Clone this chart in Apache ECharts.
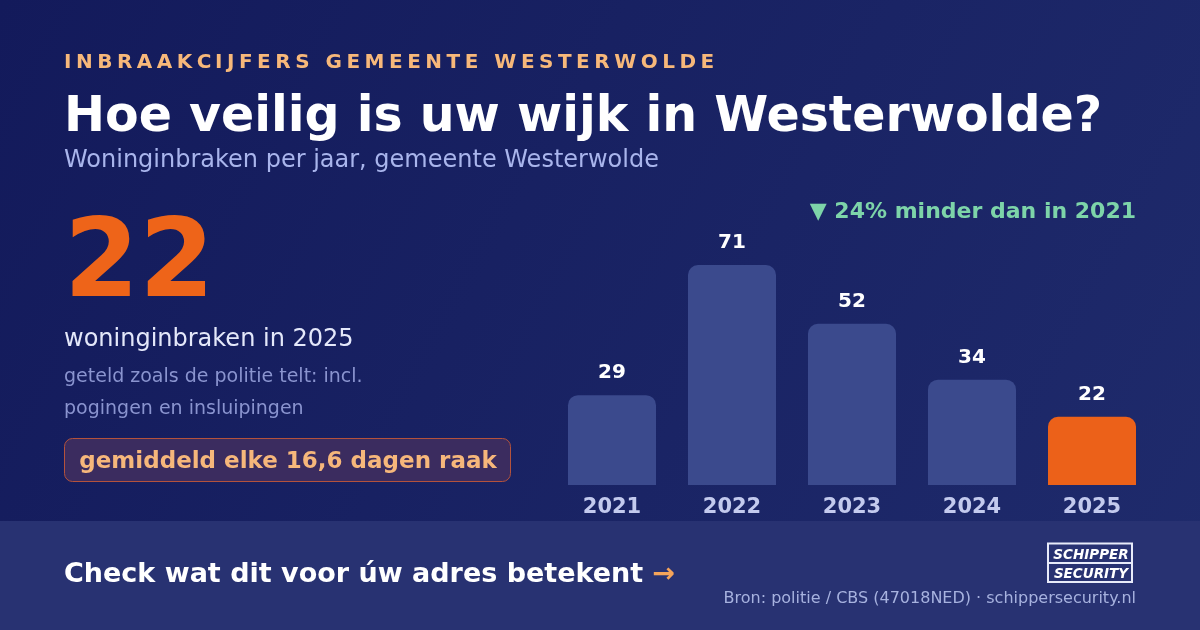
<!DOCTYPE html>
<html>
<head>
<meta charset="utf-8">
<script src="https://cdn.jsdelivr.net/npm/echarts@6/dist/echarts.min.js"></script>
<style>
  html, body { margin: 0; padding: 0; background: #151d5e; }
  #div_chart { width: 1200px; height: 630px; }
</style>
</head>
<body>
<div id="div_chart"></div>
<script>
"use strict";

// data
const years = ["2021", "2022", "2023", "2024", "2025"];
const burglaries = [29, 71, 52, 34, 22];
const highlight_year = "2025";

// texts
const txt_kicker = "INBRAAKCIJFERS GEMEENTE WESTERWOLDE";
const txt_title = "Hoe veilig is uw wijk in Westerwolde?";
const txt_subtitle = "Woninginbraken per jaar, gemeente Westerwolde";
const txt_big = "22";
const txt_big_label = "woninginbraken in 2025";
const txt_note = ["geteld zoals de politie telt: incl.", "pogingen en insluipingen"];
const txt_badge = "gemiddeld elke 16,6 dagen raak";
const txt_change = "▼ 24% minder dan in 2021";
const txt_cta = "Check wat dit voor úw adres betekent";
const txt_source = "Bron: politie / CBS (47018NED) · schippersecurity.nl";

const FONT = "DejaVu Sans";
const html_div_chart = document.getElementById("div_chart");
const chart = echarts.init(html_div_chart, null, { renderer: "canvas" });

// y is the baseline; zrender has no alphabetic baseline, so shift a middle-aligned text
function mid(y, size) {
  return y - 0.30 * size;
}

// letter-spaced text: one element per char, positions from canvas measureText
function spaced_text(str, x, y, size, spacing, color) {
  const ctx = document.createElement("canvas").getContext("2d");
  ctx.font = "bold " + size + "px \"" + FONT + "\"";
  const out = [];
  for (let i = 0; i < str.length; i++) {
    const dx = ctx.measureText(str.slice(0, i)).width + i * spacing;
    out.push({
      type: "text", x: x + dx, y: mid(y, size),
      style: {
        text: str[i], fill: color, fontFamily: FONT, fontSize: size, fontWeight: "bold",
        verticalAlign: "middle"
      }
    });
  }
  return out;
}

function t(text, x, y, size, color, weight, align, italic) {
  return {
    type: "text", x: x, y: mid(y, size),
    style: {
      text: text, fill: color,
      fontFamily: FONT, fontSize: size, fontWeight: weight || "normal",
      fontStyle: italic ? "italic" : "normal",
      align: align || "left", verticalAlign: "middle"
    }
  };
}

const graphics = [
  // background
  {
    type: "rect", shape: { x: 0, y: 0, width: 1200, height: 630 }, z: -10,
    style: {
      fill: new echarts.graphic.LinearGradient(0, 0, 1, 1, [
        { offset: 0, color: "#131a5b" },
        { offset: 1, color: "#1f2b6c" }
      ])
    }
  },
  // bottom band
  { type: "rect", shape: { x: 0, y: 521, width: 1200, height: 109 }, z: -9, style: { fill: "#283272" } },
  ...spaced_text(txt_kicker, 64, 69, 20, 4.5, "#f7b87a"),
  t(txt_title, 64, 133, 49, "#ffffff", "bold"),
  t(txt_subtitle, 64, 168, 24, "#a9b5ec"),
  t(txt_big, 64, 300, 108, "#ee6419", "bold"),
  t(txt_big_label, 64, 347, 24, "#e4e8fa"),
  t(txt_note[0], 64, 383, 19, "#8a94cf"),
  t(txt_note[1], 64, 415, 19, "#8a94cf"),
  // badge
  {
    type: "rect", shape: { x: 64.5, y: 438.5, width: 446, height: 43, r: 8 },
    style: { fill: "#3b2c5f", stroke: "#b4523c", lineWidth: 1 }
  },
  t(txt_badge, 288, 469, 23, "#f6b77b", "bold", "center"),
  t(txt_change, 1136, 219, 22, "#7dd4a9", "bold", "right"),
  // call to action
  {
    type: "text", x: 64, y: mid(583, 27),
    style: {
      text: "{a|" + txt_cta + " }{b|→}",
      verticalAlign: "middle",
      rich: {
        a: { fill: "#ffffff", fontFamily: FONT, fontSize: 27, fontWeight: "bold" },
        b: { fill: "#f5a45a", fontFamily: FONT, fontSize: 27, fontWeight: "bold" }
      }
    }
  },
  t(txt_source, 1136, 604, 16, "#a7b2df", "normal", "right"),
  // logo
  {
    type: "rect", shape: { x: 1048, y: 543.5, width: 84, height: 38.5 },
    style: { fill: "none", stroke: "#e8ebfa", lineWidth: 2 }
  },
  {
    type: "line", shape: { x1: 1048, y1: 563, x2: 1132, y2: 563 },
    style: { stroke: "#e8ebfa", lineWidth: 2 }
  },
  t("SCHIPPER", 1091, 559.5, 13.5, "#ffffff", "bold", "center", true),
  t("SECURITY", 1091, 578.5, 13.5, "#ffffff", "bold", "center", true)
];

chart.setOption({
  backgroundColor: "transparent",
  animation: false,
  textStyle: { fontFamily: FONT },
  grid: { left: 552, right: 48, top: 265, bottom: 145 },
  xAxis: {
    type: "category",
    data: years,
    axisLine: { show: false },
    axisTick: { show: false },
    axisLabel: {
      color: "#c3caee", fontFamily: FONT, fontWeight: "bold", fontSize: 21, margin: 12
    }
  },
  yAxis: {
    type: "value", min: 0, max: 71,
    show: false, splitLine: { show: false }
  },
  series: [{
    type: "bar",
    data: burglaries.map((v, i) => ({
      value: v,
      itemStyle: { color: years[i] === highlight_year ? "#ec6119" : "#3b4a8d" }
    })),
    barWidth: 88,
    itemStyle: { borderRadius: [10, 10, 0, 0] },
    label: {
      show: true, position: "top", distance: 12,
      color: "#ffffff", fontFamily: FONT, fontWeight: "bold", fontSize: 20
    },
    silent: true
  }],
  graphic: graphics
});
</script>
</body>
</html>
